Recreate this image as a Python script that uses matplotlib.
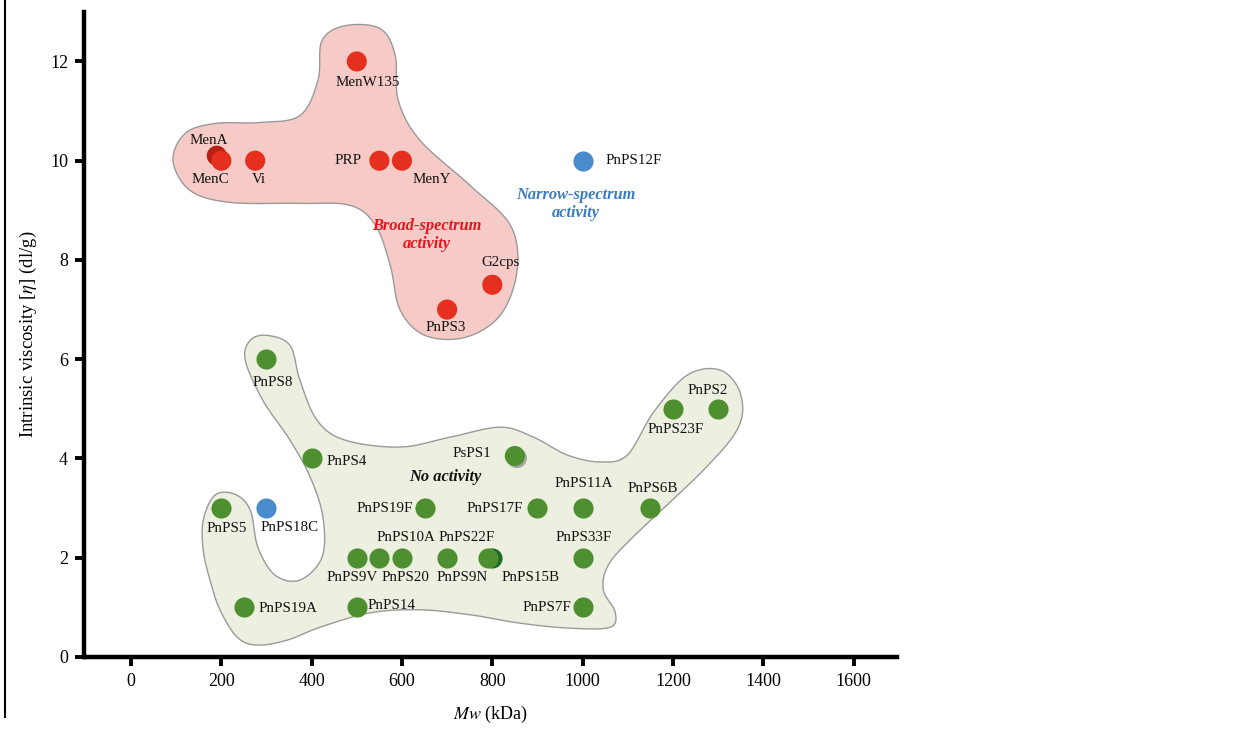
import numpy as np
import matplotlib
matplotlib.use("Agg")
import matplotlib.pyplot as plt
import matplotlib.patheffects as pe
from matplotlib.patches import Polygon
from matplotlib.lines import Line2D

plt.rcParams['font.family'] = ['Liberation Serif', 'DejaVu Serif']
plt.rcParams['mathtext.fontset'] = 'stix'

# ---- data: Mw (kDa) and intrinsic viscosity (dl/g) ----
broad_names = ['MenA', 'MenC', 'Vi', 'PRP', 'MenY', 'MenW135', 'G2cps', 'PnPS3']
broad_mw = [190, 200, 275, 550, 600, 500, 800, 700]
broad_iv = [10.1, 10.0, 10.0, 10.0, 10.0, 12.0, 7.5, 7.0]

narrow_names = ['PnPS12F', 'PnPS18C']
narrow_mw = [1000, 300]
narrow_iv = [10.0, 3.0]

none_names = ['PnPS8', 'PnPS4', 'PnPS5', 'PnPS19A', 'PnPS14', 'PnPS9V', 'PnPS10A',
              'PnPS20', 'PnPS9N', 'PnPS15B', 'PnPS22F', 'PnPS19F', 'PsPS1', 'PnPS17F',
              'PnPS11A', 'PnPS33F', 'PnPS7F', 'PnPS6B', 'PnPS23F', 'PnPS2']
none_mw = [300, 400, 200, 250, 500, 500, 550, 600, 700, 800, 790, 650, 850, 900,
           1000, 1000, 1000, 1150, 1200, 1300]
none_iv = [6, 4, 3, 1, 1, 2, 2, 2, 2, 2, 2, 3, 4.05, 3, 3, 2, 1, 3, 5, 5]

# label offsets in pixels (dx, dy) from each point
offsets = {
    'MenW135': (11, -21), 'MenA': (-8, 15), 'MenC': (-11, -19), 'Vi': (4, -19),
    'PRP': (-31, 0), 'MenY': (30, -19), 'G2cps': (8, 22), 'PnPS3': (-1, -18),
    'PnPS12F': (51, 0), 'PnPS18C': (23, -19),
    'PnPS8': (6, -23), 'PnPS4': (35, -3), 'PnPS5': (5, -20), 'PnPS19A': (44, -1),
    'PnPS14': (35, 2), 'PnPS9V': (-5, -20), 'PnPS10A': (27, 20), 'PnPS20': (3, -20),
    'PnPS9N': (15, -20), 'PnPS22F': (-21, 20), 'PnPS15B': (38, -20),
    'PnPS19F': (-40, 0), 'PsPS1': (-43, 2), 'PnPS17F': (-43, 0), 'PnPS11A': (1, 25),
    'PnPS33F': (1, 20), 'PnPS7F': (-36, 0), 'PnPS6B': (2, 20), 'PnPS23F': (3, -21),
    'PnPS2': (-10, 18),
}

# blob outlines (data units)
red_blob = [(93, 10.0), (120, 10.55), (186, 10.75), (286, 10.77), (374, 10.91),
            (414, 11.62), (423, 12.42), (474, 12.72), (552, 12.66), (585, 12.12),
            (592, 11.21), (640, 10.41), (751, 9.5), (840, 8.7), (855, 7.79),
            (818, 6.89), (740, 6.44), (651, 6.48), (596, 6.99), (574, 7.89),
            (541, 8.7), (485, 9.1), (374, 9.14), (219, 9.16), (131, 9.4)]
green_blob = [(301, 6.48), (352, 6.28), (374, 5.58), (412, 4.77), (474, 4.37),
              (596, 4.23), (707, 4.43), (818, 4.63), (891, 4.43), (966, 4.07),
              (1039, 3.93), (1099, 4.07), (1157, 4.93), (1232, 5.68), (1305, 5.78),
              (1349, 5.32), (1345, 4.63), (1267, 3.76), (1112, 2.42), (1057, 1.85),
              (1046, 1.35), (1072, 0.91), (1061, 0.6), (973, 0.58), (862, 0.68),
              (751, 0.85), (640, 0.95), (530, 0.89), (419, 0.6), (346, 0.34),
              (279, 0.24), (235, 0.4), (197, 0.95), (175, 1.55), (160, 2.15),
              (160, 2.76), (186, 3.26), (230, 3.28), (264, 2.96), (281, 2.21),
              (319, 1.65), (374, 1.55), (423, 2.01), (425, 2.82), (397, 3.62),
              (352, 4.37), (292, 5.17), (253, 5.98), (264, 6.38)]


def smooth(pts, n=24):
    P = np.asarray(pts, dtype=float)
    m = len(P)
    t = np.linspace(0, 1, n, endpoint=False)[:, None]
    out = []
    for i in range(m):
        p0, p1, p2, p3 = P[i - 1], P[i], P[(i + 1) % m], P[(i + 2) % m]
        out.append(0.5 * (2 * p1 + (-p0 + p2) * t + (2 * p0 - 5 * p1 + 4 * p2 - p3) * t ** 2
                          + (-p0 + 3 * p1 - 3 * p2 + p3) * t ** 3))
    return np.vstack(out)


fig = plt.figure(figsize=(12.36, 7.29), dpi=100)
ax = fig.add_axes([0.068, 0.0988, 0.658, 0.885])

ax.add_patch(Polygon(smooth(red_blob), closed=True, fc='#f6cac6', ec='#9a9a9a', lw=1.0, zorder=1))
ax.add_patch(Polygon(smooth(green_blob), closed=True, fc='#edf0e0', ec='#9a9a9a', lw=1.0, zorder=1))

S = 210
red = '#e5301f'
green = '#4e8f30'
blue = '#4a8bcb'

broad_cols = ['#b81f16'] + [red] * (len(broad_names) - 1)
ax.scatter(broad_mw, broad_iv, s=S, c=broad_cols, lw=0, zorder=3)
ax.scatter(narrow_mw, narrow_iv, s=S, c=blue, lw=0, zorder=3)

none_cols = ['#1c6b2b' if n == 'PnPS15B' else green for n in none_names]
for n, x, y, c in zip(none_names, none_mw, none_iv, none_cols):
    sc = ax.scatter([x], [y], s=S, c=c, lw=0, zorder=3)
    if n == 'PsPS1':
        sc.set_path_effects([pe.withSimplePatchShadow(offset=(1.5, -1.5),
                                                      shadow_rgbFace='#888888', alpha=0.7)])

for names, xs, ys in [(broad_names, broad_mw, broad_iv),
                      (narrow_names, narrow_mw, narrow_iv),
                      (none_names, none_mw, none_iv)]:
    for n, x, y in zip(names, xs, ys):
        ax.annotate(n, (x, y), xytext=offsets[n], textcoords='offset pixels',
                    ha='center', va='center', fontsize=10.8, color='#111111', zorder=4)

ax.text(656, 8.5, 'Broad-spectrum\nactivity', color='#e8141c', fontsize=11.8,
        fontweight='bold', style='italic', ha='center', va='center', linespacing=1.15, zorder=4)
ax.text(984, 9.12, 'Narrow-spectrum\nactivity', color='#3a7cc4', fontsize=11.8,
        fontweight='bold', style='italic', ha='center', va='center', linespacing=1.15, zorder=4)
ax.text(696, 3.62, 'No activity', color='#111111', fontsize=11.8,
        fontweight='bold', style='italic', ha='center', va='center', zorder=4)

ax.set_xlim(-104, 1697)
ax.set_ylim(0, 13)
ax.set_xticks(range(0, 1601, 200))
ax.set_yticks(range(0, 13, 2))
for s in ['top', 'right']:
    ax.spines[s].set_visible(False)
for s in ['left', 'bottom']:
    ax.spines[s].set_linewidth(3.2)
ax.tick_params(width=2.8, length=6.5, labelsize=13, pad=5, color='black')

ax.set_xlabel('$Mw$ (kDa)', fontsize=13, labelpad=10)
ax.set_ylabel(r'Intrinsic viscosity [$\eta$] (dl/g)', fontsize=13.5, labelpad=8)

fig.add_artist(Line2D([5 / 1236, 5 / 1236], [1.0, 1 - 717 / 729], color='black', lw=1.5))

fig.savefig('out.png', dpi=100)
